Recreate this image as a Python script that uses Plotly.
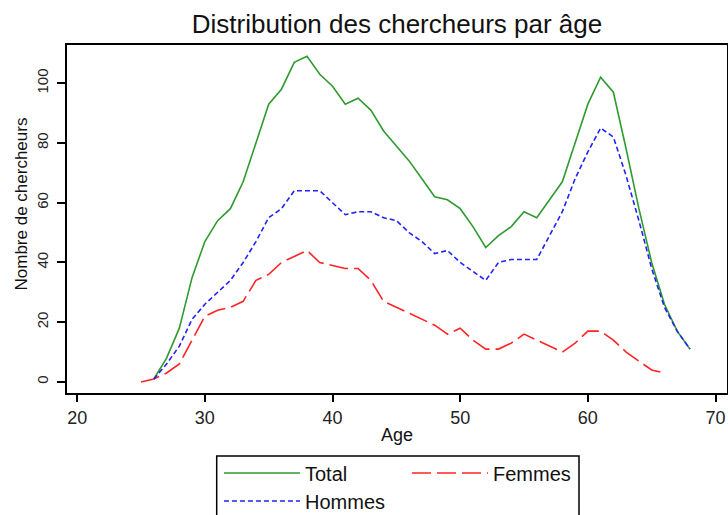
import plotly.graph_objects as go

# ---- data ----
ages_total = list(range(26, 69))
total = [1, 8, 18, 35, 47, 54, 58, 67, 80, 93,
         98, 107, 109, 103, 99, 93, 95, 91, 84, 79,
         74, 68, 62, 61, 58, 52, 45, 49, 52, 57,
         55, 61, 67, 80, 93, 102, 97, 78, 58, 40,
         26, 17, 11]

ages_hommes = list(range(26, 69))
hommes = [1, 6, 12, 21, 26, 30, 34, 40, 47, 55,
          58, 64, 64, 64, 60, 56, 57, 57, 55, 54,
          50, 47, 43, 44, 40, 37, 34, 40, 41, 41,
          41, 49, 57, 68, 77, 85, 82, 69, 54, 38,
          25, 17, 11]

ages_femmes = list(range(25, 67))
femmes = [0, 1, 3, 6, 14, 22, 24, 25, 27, 34,
          36, 40, 42, 44, 40, 39, 38, 38, 34, 27,
          25, 23, 21, 19, 16, 18, 14, 11, 11, 13,
          16, 14, 12, 10, 13, 17, 17, 14, 10, 7,
          4, 3]

x_ticks = [20, 30, 40, 50, 60, 70]
y_ticks = [0, 20, 40, 60, 80, 100]

FONT = "Liberation Sans, Arial, sans-serif"
GREEN = "#2f9a2f"
RED = "#ff2424"
BLUE = "#2222ff"

fig = go.Figure()
fig.add_trace(go.Scatter(x=ages_total, y=total, mode="lines", name="Total",
                         line=dict(color=GREEN, width=1.6), legend="legend"))
fig.add_trace(go.Scatter(x=ages_femmes, y=femmes, mode="lines", name="Femmes",
                         line=dict(color=RED, width=1.6, dash="19px,6px"), legend="legend2"))
fig.add_trace(go.Scatter(x=ages_hommes, y=hommes, mode="lines", name="Hommes",
                         line=dict(color=BLUE, width=1.6, dash="5px,3px"), legend="legend3"))

L, R, T, B = 67, 1, 45, 122
W, H = 728, 515
pw = W - L - R
ph = H - T - B

def cx(p):
    return p / W

def cy(p):
    return 1 - p / H

def px_x(p):
    return (p - L) / pw

def px_y(p):
    return (H - B - p) / ph

leg_common = dict(bgcolor="rgba(0,0,0,0)", borderwidth=0, visible=True,
                  font=dict(family=FONT, size=20, color="#111"),
                  xref="container", yref="container",
                  yanchor="middle", xanchor="left", itemwidth=76)

fig.update_layout(
    width=W, height=H,
    showlegend=True,
    margin=dict(l=L, r=R, t=T, b=B, pad=0, autoexpand=False),
    paper_bgcolor="white", plot_bgcolor="white",
    title=dict(text="Distribution des chercheurs par âge",
               font=dict(family=FONT, size=26, color="#111"),
               x=0.5, xref="paper", y=cy(24), yref="container",
               xanchor="center", yanchor="middle"),
    xaxis=dict(range=[19.2, 70.9], tickvals=x_ticks, ticks="outside",
               ticklen=7, tickwidth=1.5, tickcolor="black",
               showline=True, linewidth=2, linecolor="black", mirror=True,
               showgrid=False, zeroline=False, automargin=False,
               tickfont=dict(family=FONT, size=18, color="#222"),
               title=dict(text="Age", font=dict(family=FONT, size=18, color="#111"),
                          standoff=2)),
    yaxis=dict(range=[-3.7, 112.8], tickvals=y_ticks, ticks="outside",
               ticklen=8, tickwidth=1.5, tickcolor="black", tickangle=-90,
               ticklabelstandoff=3,
               showline=True, linewidth=2, linecolor="black", mirror=True,
               showgrid=False, zeroline=False, automargin=False,
               tickfont=dict(family=FONT, size=15, color="#222")),
    annotations=[dict(text="Nombre de chercheurs", textangle=-90,
                      xref="paper", yref="paper", x=px_x(20.5), y=px_y(204),
                      xanchor="center", yanchor="middle", showarrow=False,
                      font=dict(family=FONT, size=17, color="#111"))],
    legend=dict(x=cx(219), y=cy(473), **leg_common),
    legend2=dict(x=cx(407), y=cy(473), **leg_common),
    legend3=dict(x=cx(219), y=cy(501), **leg_common),
    shapes=[dict(type="rect", xref="paper", yref="paper",
                 x0=px_x(216.7), x1=px_x(579), y0=px_y(456), y1=px_y(560),
                 line=dict(color="black", width=1.5), fillcolor="rgba(0,0,0,0)")],
)

fig.write_html("out.html", config={"displayModeBar": False},
               post_script="document.body.style.margin='0';")
